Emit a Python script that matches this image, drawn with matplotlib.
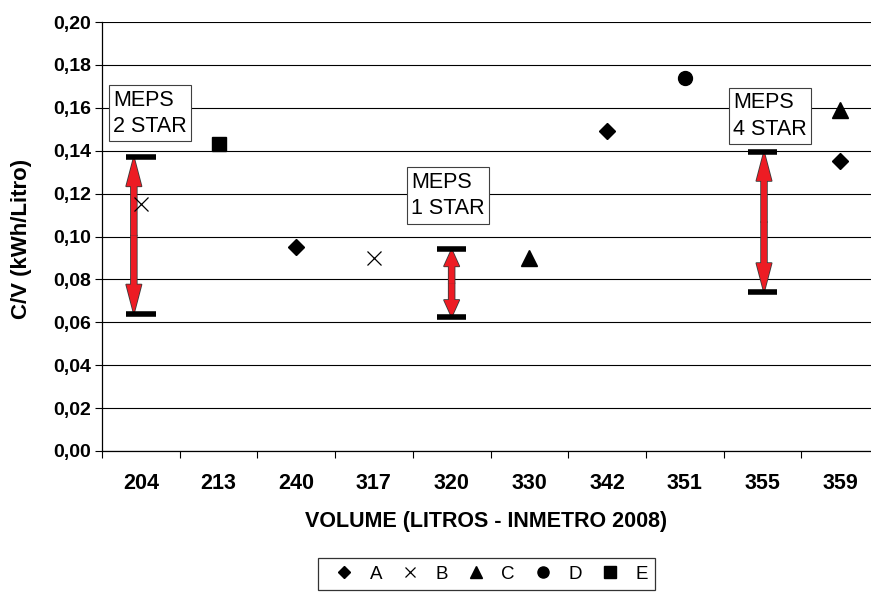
import numpy as np
import matplotlib.pyplot as plt
from matplotlib.patches import FancyArrowPatch

plt.rcParams['font.family'] = ['Liberation Sans', 'DejaVu Sans']

volumes = ['204', '213', '240', '317', '320', '330', '342', '351', '355', '359']

# C/V of each brand, by volume category
a_vol = ['240', '342', '359']
a_cv = [0.095, 0.149, 0.135]
b_vol = ['204', '317']
b_cv = [0.115, 0.090]
c_vol = ['330', '359']
c_cv = [0.090, 0.159]
d_vol = ['351']
d_cv = [0.174]
e_vol = ['213']
e_cv = [0.143]

# MEPS limits per star class
meps_vol = ['204', '320', '355']
meps_text = ['MEPS\n2 STAR', 'MEPS\n1 STAR', 'MEPS\n4 STAR']
meps_low = [0.064, 0.0625, 0.074]
meps_high = [0.137, 0.094, 0.1395]

pos = {v: i for i, v in enumerate(volumes)}


def xs(vols):
    return [pos[v] for v in vols]


fig = plt.figure(figsize=(8.71, 5.94), dpi=100)
ax = fig.add_axes([102 / 871, 1 - 451 / 594, 777 / 871, 429 / 594])

ax.plot(xs(a_vol), a_cv, 'D', color='black', ms=8, ls='none', label='A', zorder=5)
ax.plot(xs(b_vol), b_cv, 'x', color='black', ms=9.5, mew=0.9, ls='none', label='B', zorder=5)
ax.plot(xs(c_vol), c_cv, '^', color='black', ms=11, ls='none', label='C', zorder=5)
ax.plot(xs(d_vol), d_cv, 'o', color='black', ms=10, ls='none', label='D', zorder=5)
ax.plot(xs(e_vol), e_cv, 's', color='#8fd07b', mfc='black', mec='black', ms=10,
        lw=1.2, label='E', zorder=5)

# MEPS ranges: caps plus a red double arrow between them
arrow_dx = [-0.09, 0.0, 0.02]
text_dx = [-0.36, -0.52, -0.38]
text_top = [0.1685, 0.1302, 0.1672]
ax_h_pt = 429 * 72 / 100
for i, v in enumerate(meps_vol):
    x = pos[v]
    lo, hi = meps_low[i], meps_high[i]
    ax.hlines([lo, hi], x - 0.19, x + 0.19, color='black', lw=4, zorder=4)
    xa = x + arrow_dx[i]
    mid = (lo + hi) / 2
    span_pt = (hi - lo) / 0.2 * ax_h_pt
    hl = min(21, 0.25 * span_pt)
    style = 'simple,head_length=%.1f,head_width=11,tail_width=4.2' % hl
    for lw, z in [(1.2, 3), (0, 3.5)]:
        for end in (lo, hi):
            ax.add_patch(FancyArrowPatch((xa, mid), (xa, end), arrowstyle=style,
                                         mutation_scale=1, shrinkA=0, shrinkB=0,
                                         fc='#ed1c24', ec='#3a3a3a', lw=lw, zorder=z))
    ax.text(x + text_dx[i], text_top[i], meps_text[i], ha='left', va='top',
            fontsize=15.5, linespacing=1.35, zorder=6,
            bbox=dict(boxstyle='square,pad=0.2', fc='white', ec='#404040', lw=0.8))

ax.set_xlim(-0.5, 9.5)
ax.set_ylim(0, 0.2)
yt = np.arange(0, 0.201, 0.02)
ax.set_yticks(yt)
ax.set_yticklabels([('%.2f' % t).replace('.', ',') for t in yt])
ax.set_xticks(range(len(volumes)))
ax.set_xticklabels(volumes)
ax.set_xticks(np.arange(-0.5, len(volumes)), minor=True)
ax.tick_params(axis='x', which='major', length=0, pad=16, labelsize=15.5)
ax.tick_params(axis='x', which='minor', length=5, direction='out', width=0.8)
ax.tick_params(axis='y', length=5, direction='out', width=0.8, pad=3, labelsize=14)
for lbl in ax.get_xticklabels() + ax.get_yticklabels():
    lbl.set_fontweight('bold')

ax.yaxis.grid(True, color='black', lw=0.8)
ax.set_axisbelow(True)
for s in ['top', 'right']:
    ax.spines[s].set_visible(False)
for s in ['left', 'bottom']:
    ax.spines[s].set_linewidth(0.9)

fig.text(486 / 871, 1 - 521 / 594, 'VOLUME (LITROS - INMETRO 2008)', ha='center',
         va='center', fontsize=15.5, fontweight='bold')
fig.text(21 / 871, 1 - 239 / 594, 'C/V (kWh/Litro)', ha='center', va='center',
         rotation=90, fontsize=16, fontweight='bold')

leg = fig.legend(loc='upper left', bbox_to_anchor=(318 / 871, 1 - 558 / 594), ncol=5,
                 fontsize=13.5, handlelength=2.0, handletextpad=0.35, columnspacing=0.5,
                 borderaxespad=0, fancybox=False, markerscale=0.8, frameon=True)
leg.get_frame().set_edgecolor('black')
leg.get_frame().set_linewidth(0.9)

fig.savefig('out.png', dpi=100)
